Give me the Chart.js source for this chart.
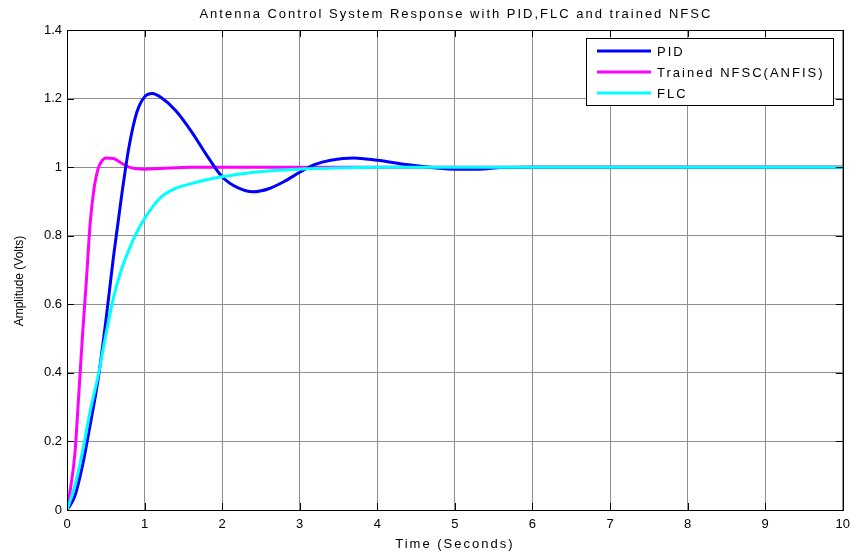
<!DOCTYPE html>
<html>
<head>
<meta charset="utf-8">
<script src="https://cdn.jsdelivr.net/npm/chart.js@4"></script>
<style>
    html, body { margin: 0; padding: 0; background: #fff; }
    #wrap { width: 857px; height: 554px; }
</style>
</head>
<body>
<div id="wrap"><canvas id="chart" width="857" height="554"></canvas></div>
<script>
const chartTitle = "Antenna Control System Response with PID,FLC and trained NFSC";
const xTitle = "Time (Seconds)";
const yTitle = "Amplitude (Volts)";
const seriesNames = ["PID", "Trained NFSC(ANFIS)", "FLC"];

const pidTime = [0, 0.1, 0.2, 0.3, 0.4, 0.5, 0.6, 0.7, 0.8, 0.9, 1.0, 1.1, 1.2, 1.4, 1.6, 1.8, 2.0, 2.2, 2.4, 2.6, 2.8, 3.0, 3.2, 3.4, 3.7, 4.0, 4.4, 5.0, 5.3, 5.6, 6, 7, 8, 9, 10];
const pidValues = [0, 0.04, 0.13, 0.25, 0.38, 0.55, 0.74, 0.91, 1.06, 1.16, 1.205, 1.215, 1.205, 1.165, 1.105, 1.035, 0.972, 0.94, 0.928, 0.937, 0.958, 0.985, 1.008, 1.02, 1.027, 1.02, 1.007, 0.994, 0.994, 0.999, 1.0, 1.0, 1.0, 1.0, 1.0];

const nfscTime = [0, 0.05, 0.1, 0.15, 0.2, 0.25, 0.3, 0.35, 0.4, 0.45, 0.5, 0.6, 0.7, 0.8, 0.9, 1.0, 1.2, 1.6, 2, 3, 4, 5, 6, 7, 8, 9, 10];
const nfscValues = [0, 0.07, 0.16, 0.33, 0.51, 0.67, 0.84, 0.94, 0.995, 1.018, 1.027, 1.025, 1.012, 1.0, 0.995, 0.994, 0.996, 1.0, 1.0, 1.0, 1.0, 1.0, 1.0, 1.0, 1.0, 1.0, 1.0];

const flcTime = [0, 0.1, 0.2, 0.3, 0.4, 0.5, 0.6, 0.7, 0.8, 0.9, 1.0, 1.2, 1.4, 1.6, 1.8, 2.0, 2.4, 2.8, 3.2, 3.6, 4.0, 5, 6, 7, 8, 9, 10];
const flcValues = [0, 0.07, 0.17, 0.29, 0.39, 0.51, 0.62, 0.70, 0.76, 0.81, 0.85, 0.91, 0.938, 0.952, 0.963, 0.972, 0.985, 0.992, 0.996, 0.998, 1.0, 1.0, 1.0, 1.0, 1.0, 1.0, 1.0];

const xTicks = [0, 1, 2, 3, 4, 5, 6, 7, 8, 9, 10];
const yTicks = [0, 0.2, 0.4, 0.6, 0.8, 1, 1.2, 1.4];

const colors = ["#0000ff", "#ff00ff", "#00ffff"];
const font = "Liberation Sans, Arial, sans-serif";

const toPoints = (t, v) => t.map((x, i) => ({ x, y: v[i] }));

// matlab style frame: title, box, inward ticks, legend
const matlabFrame = {
    id: "matlabFrame",
    afterDraw(chart) {
        const { ctx, chartArea: a, scales } = chart;
        ctx.save();
        ctx.strokeStyle = "#000";
        ctx.lineWidth = 1;
        ctx.beginPath();
        xTicks.forEach((v) => {
            const px = Math.round(scales.x.getPixelForValue(v)) + 0.5;
            ctx.moveTo(px, a.bottom); ctx.lineTo(px, a.bottom - 7);
            ctx.moveTo(px, a.top); ctx.lineTo(px, a.top + 7);
        });
        yTicks.forEach((v) => {
            const py = Math.round(scales.y.getPixelForValue(v)) + 0.5;
            ctx.moveTo(a.left, py); ctx.lineTo(a.left + 7, py);
            ctx.moveTo(a.right, py); ctx.lineTo(a.right - 7, py);
        });
        ctx.stroke();
        ctx.strokeRect(Math.round(a.left) + 0.5, Math.round(a.top) + 0.5, Math.round(a.width), Math.round(a.height));

        ctx.fillStyle = "#000";
        ctx.font = "13px " + font;
        ctx.textAlign = "center";

        // title, matlab text is loosely spaced
        ctx.letterSpacing = "2px";
        ctx.textBaseline = "alphabetic";
        ctx.fillText(chartTitle, (a.left + a.right) / 2 + 1, 18);

        // x axis title
        ctx.textBaseline = "middle";
        ctx.fillText(xTitle, (a.left + a.right) / 2, 544);

        // y axis title
        ctx.save();
        ctx.letterSpacing = "0px";
        ctx.font = "12px " + font;
        ctx.translate(20, 281);
        ctx.rotate(-Math.PI / 2);
        ctx.fillText(yTitle, 0, 0);
        ctx.restore();

        // legend
        const box = { x: 586.5, y: 38.5, w: 247, h: 67 };
        ctx.fillStyle = "#fff";
        ctx.fillRect(box.x, box.y, box.w, box.h);
        ctx.strokeRect(box.x, box.y, box.w, box.h);
        ctx.letterSpacing = "2px";
        ctx.textAlign = "left";
        ctx.textBaseline = "middle";
        seriesNames.forEach((name, i) => {
            const y = 51 + i * 21;
            ctx.strokeStyle = colors[i];
            ctx.lineWidth = 3;
            ctx.beginPath();
            ctx.moveTo(597, y); ctx.lineTo(651, y);
            ctx.stroke();
            ctx.fillStyle = "#000";
            ctx.fillText(name, 657, y + 1);
        });
        ctx.restore();
    },
};

const gridStyle = { color: "#8f8f8f", lineWidth: 1, drawTicks: false };

new Chart(document.getElementById("chart"), {
    type: "line",
    data: {
        datasets: [
            { label: seriesNames[0], data: toPoints(pidTime, pidValues), borderColor: colors[0], order: 1 },
            { label: seriesNames[1], data: toPoints(nfscTime, nfscValues), borderColor: colors[1], order: 2 },
            { label: seriesNames[2], data: toPoints(flcTime, flcValues), borderColor: colors[2], order: 0 },
        ].map((d) => ({ ...d, borderWidth: 3, pointRadius: 0, fill: false, cubicInterpolationMode: "monotone" })),
    },
    options: {
        responsive: false,
        animation: false,
        layout: { padding: { top: 30, right: 11, left: 0, bottom: 0 } },
        plugins: { legend: { display: false }, tooltip: { enabled: false }, title: { display: false } },
        scales: {
            x: {
                type: "linear",
                min: 0,
                max: 10,
                afterFit: (s) => { s.height = 44; },
                afterBuildTicks: (s) => { s.ticks = xTicks.map((value) => ({ value })); },
                grid: { ...gridStyle },
                border: { display: true, color: "#000", width: 1 },
                ticks: { color: "#000", padding: 7, font: { family: font, size: 13 }, maxRotation: 0 },
            },
            y: {
                type: "linear",
                min: 0,
                max: 1.4,
                afterFit: (s) => { s.width = 67; },
                afterBuildTicks: (s) => { s.ticks = yTicks.map((value) => ({ value })); },
                grid: { ...gridStyle },
                border: { display: true, color: "#000", width: 1 },
                ticks: { color: "#000", padding: 5, font: { family: font, size: 13 }, callback: (v) => String(+v.toFixed(1)) },
            },
        },
    },
    plugins: [matlabFrame],
});
</script>
</body>
</html>
